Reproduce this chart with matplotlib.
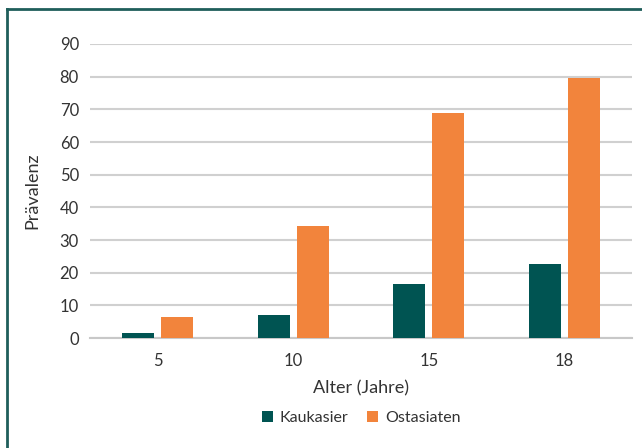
import matplotlib
import matplotlib.pyplot as plt
import numpy as np
from matplotlib.lines import Line2D

plt.rcParams["font.family"] = ["Lato", "DejaVu Sans"]

ages = ["5", "10", "15", "18"]
kaukasier = [1.6, 7.0, 16.4, 22.7]
ostasiaten = [6.4, 34.3, 69.0, 79.6]
yticks = [0, 10, 20, 30, 40, 50, 60, 70, 80, 90]

teal = "#005452"
orange = "#f2843c"

fig = plt.figure(figsize=(6.42, 4.48), dpi=100)
ax = fig.add_axes([0.1402, 0.2455, 0.8442, 0.6563])

x = np.arange(len(ages))
w = 0.236
off = 0.144
ax.bar(x - off, kaukasier, w, color=teal, label="Kaukasier", zorder=3)
ax.bar(x + off, ostasiaten, w, color=orange, label="Ostasiaten", zorder=3)

ax.set_xlim(-0.5, len(ages) - 0.5)
ax.set_ylim(0, 90)
ax.set_yticks(yticks)
ax.set_xticks(x, ages)
ax.grid(axis="y", color="#d0d0d0", linewidth=1.5, zorder=0)
for s in ["top", "right", "left"]:
    ax.spines[s].set_visible(False)
ax.spines["bottom"].set_color("#c8c8c8")
ax.spines["bottom"].set_linewidth(1.5)
ax.tick_params(length=0, labelsize=12, colors="#333333", pad=8)
ax.tick_params(axis="x", pad=11)

ax.set_ylabel("Prävalenz", fontsize=13, color="#333333", labelpad=14)
ax.set_xlabel("Alter (Jahre)", fontsize=13, color="#333333", labelpad=8)

ax.legend(loc="upper center", bbox_to_anchor=(0.5, -0.2), ncol=2, frameon=False,
          fontsize=11.5, handlelength=0.7, handleheight=0.7, handletextpad=0.4,
          columnspacing=1.2, labelcolor="#333333")

# frame around figure (cut at right and bottom edges)
fig.add_artist(Line2D([7 / 642, 1.0], [1 - 9 / 448, 1 - 9 / 448], color="#1f5e5b",
                      linewidth=2, transform=fig.transFigure))
fig.add_artist(Line2D([7 / 642, 7 / 642], [0, 1 - 9 / 448], color="#1f5e5b",
                      linewidth=2, transform=fig.transFigure))

plt.savefig("out.png", dpi=100)
